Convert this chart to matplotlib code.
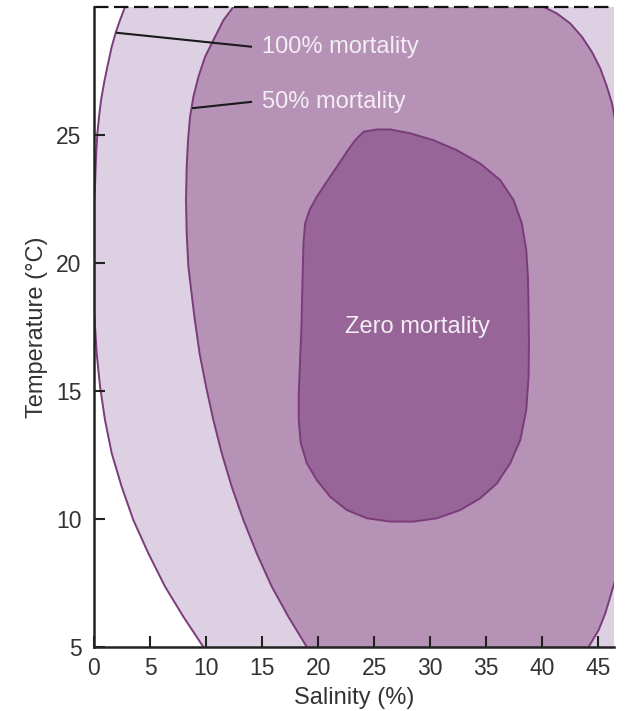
import matplotlib
matplotlib.use("Agg")
import matplotlib.pyplot as plt
from matplotlib.patches import Polygon
import numpy as np

plt.rcParams['font.family'] = ['Liberation Sans', 'DejaVu Sans']

# 100% mortality boundary (left edge; region extends to the right beyond the axes)
full_sal = [3.4, 2.77, 2.32, 1.96, 1.58, 1.19, 0.89, 0.63, 0.45, 0.30, 0.21, 0.15, 0.09,
            -0.05, -0.05, -0.05, 0.06, 0.24, 0.54, 0.98, 1.58, 2.47, 3.51, 4.85, 6.34, 7.98, 9.76,
            11.0, 60, 60]
full_temp = [31, 30.01, 29.49, 29.04, 28.45, 27.67, 27.02, 26.37, 25.72, 25.07, 24.41, 23.76, 22.98,
             22.0, 20.0, 18.5, 17.77, 16.47, 15.17, 13.87, 12.57, 11.26, 9.96, 8.66, 7.36, 6.18, 5.0,
             4.3, 4.3, 31]

# 50% mortality boundary
half_sal = [13.4, 12.44, 11.55, 10.65, 9.91, 9.32, 8.87, 8.57, 8.39, 8.27, 8.21, 8.27, 8.42, 8.78,
            9.0, 9.42, 10.0, 10.65, 11.40, 12.29, 13.33, 14.52, 15.86, 17.35, 18.99, 20.0,
            43.4, 44.13, 45.03, 45.63, 46.07, 46.46, 47.0, 47.5, 47.9, 47.8, 47.3, 46.46,
            46.22, 45.77, 45.18, 44.43, 43.54, 42.5, 41.31, 40.12, 38.8]
half_temp = [31, 30.01, 29.49, 28.71, 28.06, 27.28, 26.50, 25.72, 24.80, 23.76, 22.46, 21.16, 19.86, 18.55,
             17.77, 16.47, 15.17, 13.87, 12.57, 11.26, 9.96, 8.66, 7.36, 6.18, 5.0, 4.3,
             4.3, 5.0, 5.66, 6.32, 6.97, 7.55, 9.0, 11.0, 15.0, 20.0, 24.0, 25.66,
             26.24, 26.89, 27.60, 28.25, 28.84, 29.36, 29.75, 30.01, 30.6]

# Zero mortality boundary
zero_sal = [25.24, 24.05, 23.30, 22.56, 21.67, 20.77, 19.88, 19.23, 18.84, 18.69, 18.63, 18.57,
            18.51, 18.39, 18.27, 18.27, 18.45, 18.99, 19.88, 21.07, 22.56, 24.35, 26.43, 28.51,
            30.60, 32.68, 34.46, 35.95, 37.14, 38.04, 38.57, 38.78, 38.81, 38.78, 38.72, 38.57,
            38.18, 37.44, 36.25, 34.46, 32.38, 30.30, 28.21, 26.43]
zero_temp = [25.22, 25.13, 24.80, 24.35, 23.76, 23.18, 22.59, 22.07, 21.55, 20.77, 19.73, 18.68,
             17.51, 16.21, 14.91, 13.87, 12.96, 12.18, 11.52, 10.87, 10.35, 10.03, 9.90, 9.90,
             10.03, 10.35, 10.81, 11.39, 12.18, 13.09, 14.26, 15.56, 16.86, 18.16, 19.47, 20.51,
             21.55, 22.46, 23.24, 23.89, 24.41, 24.80, 25.07, 25.22]

x_ticks = [0, 5, 10, 15, 20, 25, 30, 35, 40, 45]
y_ticks = [5, 10, 15, 20, 25]

light = '#ddd0e2'
medium = '#b792b7'
dark = '#976598'
edge = '#7a3c7b'

fig = plt.figure(figsize=(6.25, 7.11), dpi=100)
ax = fig.add_axes([0.1504, 0.09, 0.832, 0.90])
ax.set_xlim(0, 46.4)
ax.set_ylim(5, 30)

for xs, ys, fc in [(full_sal, full_temp, light), (half_sal, half_temp, medium), (zero_sal, zero_temp, dark)]:
    p = Polygon(np.column_stack([xs, ys]), closed=True, facecolor=fc, edgecolor=edge, linewidth=1.4,
                joinstyle='round')
    ax.add_patch(p)

# annotations
ax.plot([1.97, 14.1], [29.0, 28.45], color='#1a1a1a', lw=1.5, solid_capstyle='butt')
ax.plot([8.75, 14.1], [26.05, 26.3], color='#1a1a1a', lw=1.5, solid_capstyle='butt')
tc = '#f3eef4'
ax.text(15.0, 28.45, '100% mortality', color=tc, fontsize=17, va='center', ha='left')
ax.text(15.0, 26.3, '50% mortality', color=tc, fontsize=17, va='center', ha='left')
ax.text(28.9, 17.5, 'Zero mortality', color=tc, fontsize=17, va='center', ha='center')

ax.set_xticks(x_ticks)
ax.set_yticks(y_ticks)
ax.tick_params(direction='in', length=8, width=1.5, color='#222222', labelsize=16.5,
               labelcolor='#333333')
ax.tick_params(axis='x', pad=7)
ax.tick_params(axis='y', pad=9)
ax.spines['right'].set_visible(False)
ax.spines['top'].set_visible(False)
for s in ['left', 'bottom']:
    ax.spines[s].set_linewidth(1.8)
    ax.spines[s].set_color('#222222')
ax.axhline(30, color='#111111', lw=1.6, linestyle=(0, (6.5, 2.5)), clip_on=False)

ax.set_xlabel('Salinity (%)', fontsize=17, color='#333333', labelpad=5)
ax.set_ylabel('Temperature (°C)', fontsize=17, color='#333333', labelpad=6)

fig.savefig('out.png', dpi=100)
